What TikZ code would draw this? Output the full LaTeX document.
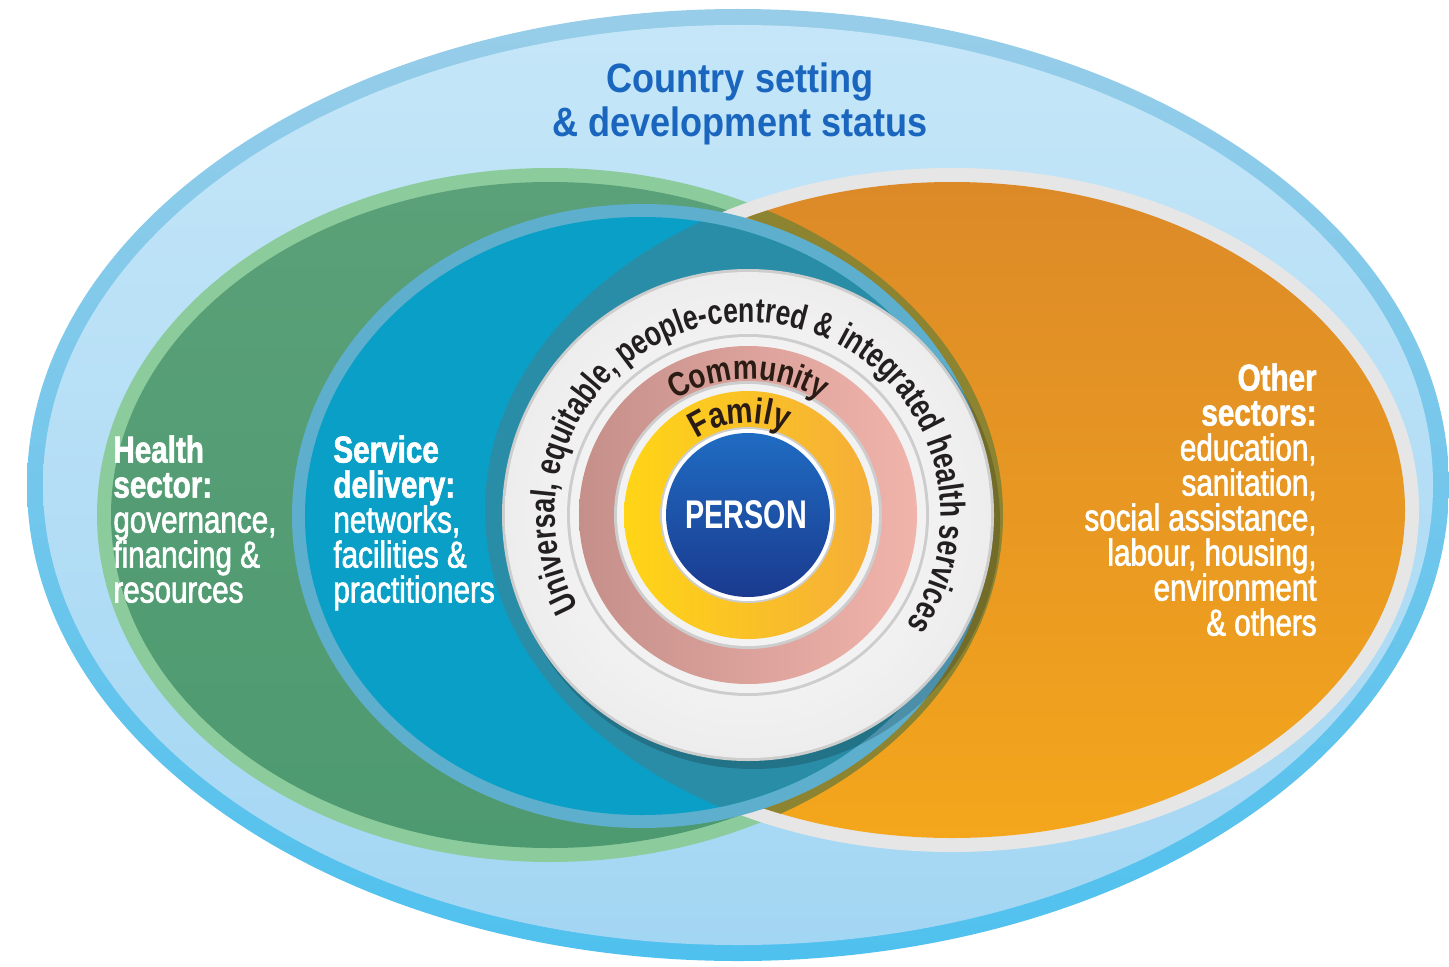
\documentclass[tikz,border=0pt]{standalone}
\usepackage{fontspec}
\setmainfont{Liberation Sans}
\newfontfamily\labfont[FakeStretch=0.79, UprightFeatures={FakeBold=1.7}, BoldFeatures={FakeBold=1.6}]{Liberation Sans}
\newfontfamily\curvfont[FakeStretch=0.82]{Liberation Sans}
\newfontfamily\univfont[FakeStretch=0.76]{Liberation Sans}
\newfontfamily\ttlfont[FakeStretch=0.88]{Liberation Sans}
\newfontfamily\perfont[FakeStretch=0.72]{Liberation Sans}
\usetikzlibrary{decorations.text}
\definecolor{outA}{HTML}{98CDE9}
\definecolor{outB}{HTML}{4FC1EE}
\definecolor{inA}{HTML}{C5E6F8}
\definecolor{inB}{HTML}{A3D6F3}
\definecolor{grnB}{HTML}{8CCB9C}
\definecolor{grnA}{HTML}{5AA078}
\definecolor{grnA2}{HTML}{4E9A70}
\definecolor{orgB}{HTML}{E6E6E6}
\definecolor{orgA}{HTML}{DC8A28}
\definecolor{orgA2}{HTML}{F4A61C}
\definecolor{olv}{HTML}{8C8431}
\definecolor{tlB}{HTML}{5DAFCD}
\definecolor{tlA}{HTML}{0A9FC6}
\definecolor{tlD}{HTML}{2A8DA7}
\definecolor{wrim}{HTML}{CDCDCD}
\definecolor{wfill}{HTML}{EDEDED}
\definecolor{pkA}{HTML}{C58F8A}
\definecolor{pkB}{HTML}{F1B4AB}
\definecolor{ylA}{HTML}{FFD516}
\definecolor{ylB}{HTML}{F5AE38}
\definecolor{psA}{HTML}{1A3A8F}
\definecolor{psB}{HTML}{1F6CC2}
\definecolor{ttlc}{HTML}{1A66BE}
\definecolor{dtxt}{HTML}{231F20}
\definecolor{comc}{HTML}{2A1C14}
\tikzset{
  lab/.style={font=\labfont\fontsize{18.75}{17.5}\selectfont, text=white, inner sep=0pt},
  ttl/.style={font=\ttlfont\bfseries\fontsize{20.5}{22}\selectfont, text=ttlc, align=center, inner sep=0pt},
}
\begin{document}
\begin{tikzpicture}[x=0.5pt,y=0.5pt]
\useasboundingbox (0,0) rectangle (1449,966);
\coordinate (C) at (748,451);
% outer country ellipse
\shade[top color=outA, bottom color=outB] (738,481) ellipse[x radius=711,y radius=476];
\shade[top color=inA, bottom color=inB] (738,481) ellipse[x radius=695,y radius=460];
% health sector (green)
\fill[grnB] (550,451) ellipse[x radius=453,y radius=347];
\shade[top color=grnA, bottom color=grnA2] (550,451) ellipse[x radius=439,y radius=333];
% other sectors (orange)
\fill[orgB] (952,456) ellipse[x radius=467,y radius=342];
\shade[top color=orgA, bottom color=orgA2] (952,456) ellipse[x radius=453,y radius=328];
\begin{scope}
  \clip (952,456) ellipse[x radius=453,y radius=328];
  \fill[olv, even odd rule] (550,451) ellipse[x radius=453,y radius=347] (550,451) ellipse[x radius=439,y radius=333];
\end{scope}
% service delivery (teal)
\fill[tlB] (642,450) ellipse[x radius=350,y radius=312];
\fill[tlA] (642,450) ellipse[x radius=337,y radius=299];
\begin{scope}
  \clip (952,456) ellipse[x radius=467,y radius=342];
  \fill[tlD] (642,450) ellipse[x radius=337,y radius=299];
\end{scope}
% central circles
\fill[black, opacity=0.18] (753,444) circle[radius=247];
\fill[wrim] (C) circle[radius=246];
\shade[inner color=white, outer color=wfill] (C) circle[radius=243];
\fill[wrim] (C) circle[radius=181];
\fill[white!95!black] (C) circle[radius=178];
\shade[left color=pkA, right color=pkB] (C) circle[radius=169];
\fill[wrim] (C) circle[radius=134];
\fill[white!95!black] (C) circle[radius=131];
\shade[left color=ylA, right color=ylB] (C) circle[radius=124];
\fill[wrim] (C) circle[radius=88];
\fill[white] (C) circle[radius=86];
\shade[shading angle=45, top color=psB, bottom color=psA] (C) circle[radius=82];
% curved texts
\path[decorate, decoration={text along path, text align=center, text color=dtxt,
  text={|\univfont\bfseries\fontsize{17.5}{17.5}\selectfont|Universal, equitable, people-centred {\&} integrated health services}}]
  (C) ++(210:193) arc[start angle=210, end angle=-36, radius=193];
\path[decorate, decoration={text along path, text align=center, text color=comc,
  text={|\curvfont\bfseries\fontsize{17}{17}\selectfont|Community}}]
  (C) ++(180:136) arc[start angle=180, end angle=0, radius=136];
\path[decorate, decoration={text along path, text align=center, text color=comc,
  text={|\curvfont\bfseries\fontsize{18}{18}\selectfont|Family}}]
  (C) ++(185:92) arc[start angle=185, end angle=5, radius=92];
% labels
\node[font=\perfont\bfseries\fontsize{20}{20}\selectfont, text=white, inner sep=0pt] (person) at (746,451) {PERSON};
\node[ttl, anchor=north] (title) at (740,904) {Country setting\\\& development status};
\node[lab, anchor=north west, align=left] (health) at (113,531) {\textbf{Health}\\\textbf{sector:}\\governance,\\financing \&\\resources};
\node[lab, anchor=north west, align=left] (service) at (333,531) {\textbf{Service}\\\textbf{delivery:}\\networks,\\facilities \&\\practitioners};
\node[lab, anchor=north east, align=right] (other) at (1317,603) {\textbf{Other}\\\textbf{sectors:}\\education,\\sanitation,\\social assistance,\\labour, housing,\\environment\\\& others};
\end{tikzpicture}
\end{document}
